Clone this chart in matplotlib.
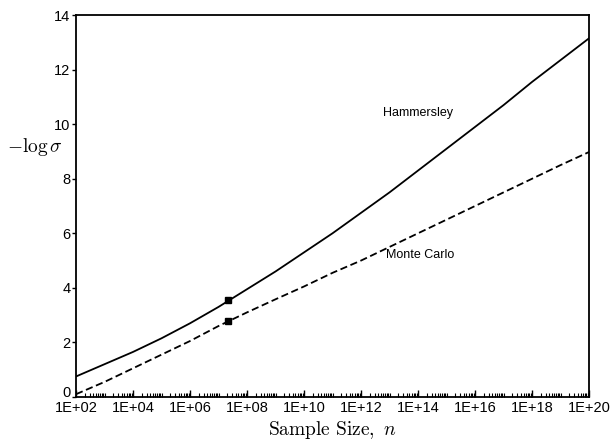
import numpy as np
import matplotlib.pyplot as plt
import matplotlib.transforms as mtransforms
from matplotlib.ticker import LogLocator, FixedLocator, NullFormatter

plt.rcParams['mathtext.fontset'] = 'cm'

# sample sizes (one point per decade)
sample_size = [1e2, 1e3, 1e4, 1e5, 1e6, 1e7, 1e8, 1e9, 1e10, 1e11,
               1e12, 1e13, 1e14, 1e15, 1e16, 1e17, 1e18, 1e19, 1e20]
hammersley = [0.75, 1.2, 1.65, 2.15, 2.7, 3.3, 3.95, 4.6, 5.3, 6.0,
              6.75, 7.5, 8.3, 9.1, 9.9, 10.7, 11.55, 12.35, 13.15]
monte_carlo = [0.1, 0.55, 1.05, 1.55, 2.05, 2.6, 3.1, 3.58, 4.05, 4.55,
               5.0, 5.5, 6.0, 6.5, 7.0, 7.5, 8.0, 8.5, 8.98]

# measured point shown with a square marker
mark_n = [2.1e7]
mark_hammersley = [3.55]
mark_monte_carlo = [2.77]

xtick_vals = [1e2, 1e4, 1e6, 1e8, 1e10, 1e12, 1e14, 1e16, 1e18, 1e20]
xtick_labels = ['1E+02', '1E+04', '1E+06', '1E+08', '1E+10',
                '1E+12', '1E+14', '1E+16', '1E+18', '1E+20']
ytick_vals = [0, 2, 4, 6, 8, 10, 12, 14]

fig = plt.figure(figsize=(6.13, 4.43), dpi=100)
ax = fig.add_axes([0.124, 0.104, 0.837, 0.862])

ax.plot(sample_size, hammersley, color='black', lw=1.3)
ax.plot(sample_size, monte_carlo, color='black', lw=1.3, dashes=(4, 2))
ax.plot(mark_n, mark_hammersley, 's', color='black', ms=4)
ax.plot(mark_n, mark_monte_carlo, 's', color='black', ms=4)

ax.set_xscale('log')
ax.set_xlim(1e2, 1e20)
ax.set_ylim(0, 14)

tick_font = dict(family='Liberation Sans', size=10.5)
ax.xaxis.set_major_locator(FixedLocator(xtick_vals))
ax.set_xticklabels(xtick_labels, **tick_font)
ax.xaxis.set_minor_locator(LogLocator(base=10, subs=np.arange(1, 10), numticks=100))
ax.xaxis.set_minor_formatter(NullFormatter())
ax.tick_params(axis='x', which='major', direction='in', length=5, width=1, pad=3)
ax.tick_params(axis='x', which='minor', direction='in', length=3, width=0.8)

ax.set_yticks(ytick_vals)
ax.set_yticklabels([str(v) for v in ytick_vals], **tick_font)
ax.tick_params(axis='y', direction='out', length=3, width=1, pad=1)

# lift the "0" label a little so it clears the first x label
zero_lbl = ax.get_yticklabels()[0]
zero_lbl.set_transform(zero_lbl.get_transform() +
                       mtransforms.ScaledTranslation(0, 4 / 72, fig.dpi_scale_trans))

for side in ['left', 'right', 'bottom', 'top']:
    ax.spines[side].set_linewidth(1.3)

ax.set_xlabel(r'$\mathrm{Sample\ Size,}\ n$', fontsize=14, labelpad=3)
ax.set_ylabel(r'$-\log\sigma$', fontsize=14, rotation=0, ha='center', va='center')
ax.yaxis.set_label_coords(-0.08, 0.655)

ax.text(1e14, 10.4, 'Hammersley', fontsize=9, family='Liberation Sans',
        ha='center', va='center')
ax.text(1.2e14, 5.2, 'Monte Carlo', fontsize=9, family='Liberation Sans',
        ha='center', va='center')

plt.savefig('out.png', dpi=100)
